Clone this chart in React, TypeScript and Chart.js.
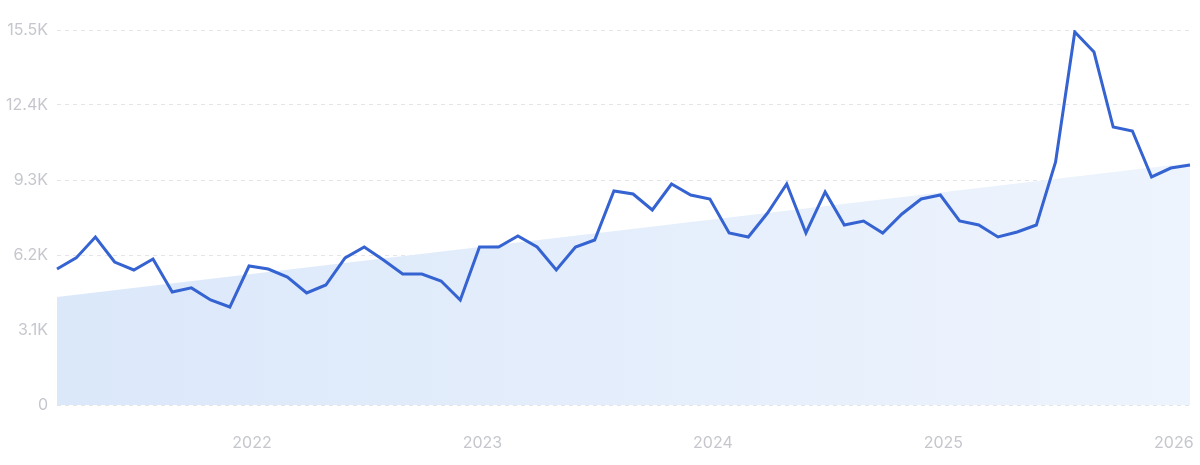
import React, { useEffect, useRef } from "react";
import { Chart, registerables } from "chart.js";

Chart.register(...registerables);

const months: string[] = [
  "2021-03","2021-04","2021-05","2021-06","2021-07","2021-08","2021-09","2021-10","2021-11","2021-12",
  "2022-01","2022-02","2022-03","2022-04","2022-05","2022-06","2022-07","2022-08","2022-09","2022-10","2022-11","2022-12",
  "2023-01","2023-02","2023-03","2023-04","2023-05","2023-06","2023-07","2023-08","2023-09","2023-10","2023-11","2023-12",
  "2024-01","2024-02","2024-03","2024-04","2024-05","2024-06","2024-07","2024-08","2024-09","2024-10","2024-11","2024-12",
  "2025-01","2025-02","2025-03","2025-04","2025-05","2025-06","2025-07","2025-08","2025-09","2025-10","2025-11","2025-12",
  "2026-01","2026-02",
];

const searches: number[] = [
  5620, 6080, 6940, 5910, 5580, 6035, 4670, 4840, 4340, 4050,
  5745, 5620, 5290, 4630, 4960, 6080, 6530, 5990, 5415, 5415, 5125, 4340,
  6530, 6530, 6985, 6530, 5580, 6530, 6820, 8845, 8720, 8060, 9135, 8680, 8515,
  7110, 6945, 7935, 9135, 7110, 8805, 7440, 7605, 7110, 7895, 8515, 8680,
  7605, 7440, 6945, 7150, 7440, 10045, 15420, 14590, 11490, 11325, 9425, 9795, 9920,
];

const trendStart = 4460;
const trendEnd = 10000;
const trend: (number | null)[] = months.map((_, i) =>
  i === 0 ? trendStart : i === months.length - 1 ? trendEnd : null
);

const yTicks: number[] = [0, 3100, 6200, 9300, 12400, 15500];
const yTickLabels: string[] = ["0", "3.1K", "6.2K", "9.3K", "12.4K", "15.5K"];

export default function App() {
  const ref = useRef<HTMLCanvasElement>(null);

  useEffect(() => {
    if (!ref.current) return;
    const labelColor = "#c5c7cd";
    const font = { family: "Inter, Roboto, sans-serif", size: 16 };
    const chart = new Chart(ref.current, {
      type: "line",
      data: {
        labels: months,
        datasets: [
          {
            label: "Searches",
            data: searches,
            borderColor: "#3563d1",
            borderWidth: 3,
            pointRadius: 0,
            tension: 0,
            fill: false,
            order: 0,
          },
          {
            label: "Trend",
            data: trend,
            spanGaps: true,
            borderWidth: 0,
            borderColor: "rgba(0,0,0,0)",
            pointRadius: 0,
            fill: "origin",
            order: 1,
            backgroundColor: (ctx: any) => {
              const area = ctx.chart.chartArea;
              if (!area) return "rgba(220,233,251,0.9)";
              const g = ctx.chart.ctx.createLinearGradient(area.left, 0, area.right, 0);
              g.addColorStop(0, "rgba(219,232,250,1)");
              g.addColorStop(1, "rgba(238,244,253,1)");
              return g;
            },
          },
        ],
      },
      options: {
        animation: false,
        responsive: false,
        maintainAspectRatio: false,
        layout: { padding: { top: 30, right: 10, left: 0, bottom: 0 } },
        plugins: { legend: { display: false }, tooltip: { enabled: false } },
        scales: {
          x: {
            type: "category",
            offset: false,
            border: { display: false },
            grid: { display: false },
            ticks: {
              color: labelColor,
              font,
              autoSkip: false,
              maxRotation: 0,
              padding: 21,
              labelOffset: 3,
              callback: (_v: any, i: number) =>
                months[i].endsWith("-01") ? months[i].slice(0, 4) : "",
            },
            afterFit: (s: any) => {
              s.height = 60;
              s.paddingLeft = 0;
              s.paddingRight = 0;
            },
          },
          y: {
            min: 0,
            max: 15500,
            border: { display: false, dash: [4, 4] },
            grid: {
              color: "#e4e5e8",
              lineWidth: 1,
              drawTicks: false,
            },
            afterBuildTicks: (s: any) => {
              s.ticks = yTicks.map((v) => ({ value: v }));
            },
            ticks: {
              color: labelColor,
              font,
              padding: 9,
              callback: (v: any) => yTickLabels[yTicks.indexOf(Number(v))] ?? "",
            },
            afterFit: (s: any) => {
              s.width = 57;
            },
          },
        },
      },
    } as any);
    return () => chart.destroy();
  }, []);

  return (
    <div style={{ position: "absolute", left: 0, top: 0, width: 1200, height: 465, background: "#fff" }}>
      <canvas ref={ref} width={1200} height={465} style={{ width: 1200, height: 465 }} />
    </div>
  );
}
